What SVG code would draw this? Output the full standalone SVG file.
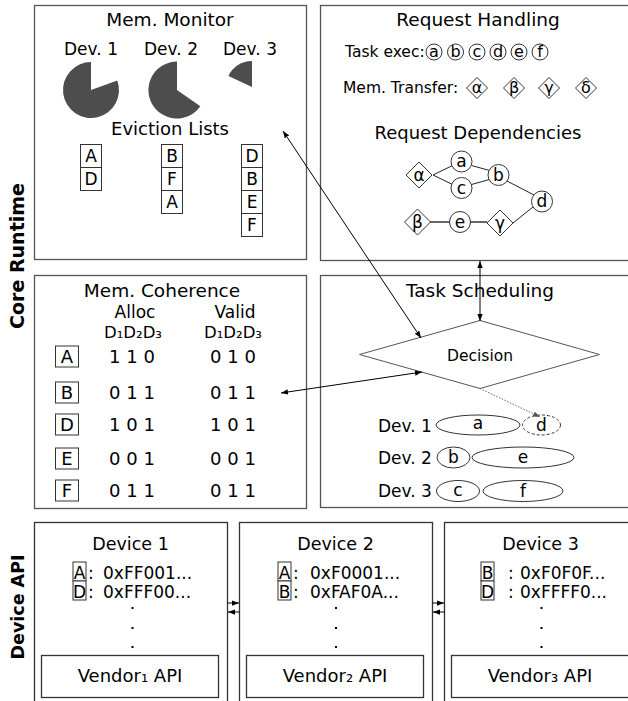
<svg xmlns="http://www.w3.org/2000/svg" width="628" height="701" viewBox="0 0 628 701">
<style>
text{font-family:"DejaVu Sans","Liberation Sans",sans-serif;fill:#000}
.t{font-size:18.5px;text-anchor:middle}
.m{text-anchor:middle}
.box{fill:none;stroke:#555;stroke-width:1.3}
.dbox{fill:none;stroke:#333;stroke-width:1.3}
.sm{fill:#fff;stroke:#333;stroke-width:1}
.pie{fill:#4d4d4d}
.side{font-weight:bold;text-anchor:middle}
.con{stroke:#000;stroke-width:1;fill:none}
.e{stroke:#222;stroke-width:1;fill:none}
.eg{stroke:#666;stroke-width:2;fill:none}
</style>
<defs>
<marker id="ah" viewBox="0 0 8 6" refX="8" refY="3" markerWidth="7" markerHeight="5.5" markerUnits="userSpaceOnUse" orient="auto-start-reverse"><path d="M0,0 L8,3 L0,6 z" fill="#000"/></marker>
<marker id="ahg" viewBox="0 0 8 6" refX="8" refY="3" markerWidth="7" markerHeight="5.5" markerUnits="userSpaceOnUse" orient="auto"><path d="M0,0 L8,3 L0,6 z" fill="#555"/></marker>
</defs>
<rect width="628" height="701" fill="#fff"/>

<text class="side" font-size="19" transform="translate(24,256) rotate(-90)">Core Runtime</text>
<text class="side" font-size="17.5" transform="translate(24,607) rotate(-90)">Device API</text>

<g id="mem-monitor">
<rect class="box" x="34.5" y="5.5" width="272" height="254"/>
<text class="t" x="170" y="26">Mem. Monitor</text>
<text class="m" font-size="17" x="91" y="55">Dev. 1</text>
<text class="m" font-size="17" x="171" y="55">Dev. 2</text>
<text class="m" font-size="17" x="250" y="55">Dev. 3</text>
<path class="pie" d="M91,90 L117.3,80.4 A28,28 0 1,1 91,62 Z"/>
<path class="pie" d="M177,90 L200.3,106.3 A28.5,28.5 0 1,1 177,61.5 Z"/>
<path class="pie" d="M252,87 L228.4,76 A26,26 0 0,1 252,61 Z"/>
<text class="m" font-size="18" x="170" y="135">Eviction Lists</text>
<g font-size="17" text-anchor="middle">
<rect class="sm" x="80.5" y="144.5" width="21" height="23"/><text x="91" y="162">A</text>
<rect class="sm" x="80.5" y="167.5" width="21" height="23"/><text x="91" y="185">D</text>
<rect class="sm" x="161.5" y="144.5" width="21" height="23"/><text x="172" y="162">B</text>
<rect class="sm" x="161.5" y="167.5" width="21" height="23"/><text x="172" y="185">F</text>
<rect class="sm" x="161.5" y="190.5" width="21" height="23"/><text x="172" y="208">A</text>
<rect class="sm" x="241.5" y="144.5" width="21" height="23"/><text x="252" y="162">D</text>
<rect class="sm" x="241.5" y="167.5" width="21" height="23"/><text x="252" y="185">B</text>
<rect class="sm" x="241.5" y="190.5" width="21" height="23"/><text x="252" y="208">E</text>
<rect class="sm" x="241.5" y="213.5" width="21" height="23"/><text x="252" y="231">F</text>
</g>
</g>

<g id="request-handling">
<rect class="box" x="320.5" y="5.5" width="320" height="255"/>
<text class="t" x="478" y="26">Request Handling</text>
<text font-size="15.5" x="345" y="57">Task exec:</text>
<g font-size="16" text-anchor="middle">
<circle class="sm" cx="434" cy="52" r="8"/><text x="434" y="57">a</text>
<circle class="sm" cx="455.5" cy="52" r="8"/><text x="455.5" y="57">b</text>
<circle class="sm" cx="477" cy="52" r="8"/><text x="477" y="57">c</text>
<circle class="sm" cx="498" cy="52" r="8"/><text x="498" y="57">d</text>
<circle class="sm" cx="519" cy="52" r="8"/><text x="519" y="57">e</text>
<circle class="sm" cx="540" cy="52" r="8"/><text x="540" y="57">f</text>
</g>
<text font-size="15.5" x="343" y="93">Mem. Transfer:</text>
<g font-size="16" text-anchor="middle">
<path class="sm" d="M466.5,88 L477,77.5 L487.5,88 L477,98.5 Z"/><text x="477" y="93">α</text>
<path class="sm" d="M503.5,88 L514,77.5 L524.5,88 L514,98.5 Z"/><text x="514" y="93">β</text>
<path class="sm" d="M538.5,88 L549,77.5 L559.5,88 L549,98.5 Z"/><text x="549" y="93">γ</text>
<path class="sm" d="M575.5,88 L586,77.5 L596.5,88 L586,98.5 Z"/><text x="586" y="93">δ</text>
</g>
<text class="m" font-size="18" x="478" y="139">Request Dependencies</text>
<g id="dep-edges">
<line class="e" x1="433" y1="175" x2="452.5" y2="165.5"/>
<line class="e" x1="433" y1="175" x2="452.5" y2="184.5"/>
<line class="e" x1="471.5" y1="165.5" x2="489.5" y2="170.5"/>
<line class="e" x1="471.5" y1="184.5" x2="489.5" y2="179.5"/>
<line class="e" x1="507" y1="181" x2="534" y2="195"/>
<line class="e" x1="513" y1="223" x2="533" y2="207"/>
<line class="eg" x1="430" y1="222" x2="449.5" y2="222"/>
<line class="eg" x1="470.5" y1="222" x2="487" y2="222"/>
</g>
<g font-size="17" text-anchor="middle">
<path class="sm" d="M406,175 L419,162 L432,175 L419,188 Z"/><text x="419" y="181">α</text>
<circle class="sm" cx="461.5" cy="161.5" r="10.5"/><text x="461.5" y="167">a</text>
<circle class="sm" cx="461.5" cy="188" r="10.5"/><text x="461.5" y="193.5">c</text>
<circle class="sm" cx="498.5" cy="175" r="10.5"/><text x="498.5" y="180.5">b</text>
<circle class="sm" cx="542" cy="201.5" r="10.5"/><text x="542" y="207">d</text>
<path class="sm" d="M404.5,222 L417.5,209 L430.5,222 L417.5,235 Z"/><text x="417.5" y="228">β</text>
<circle class="sm" cx="460" cy="222" r="10.5"/><text x="460" y="227.5">e</text>
<path class="sm" d="M487,223 L500,210 L513,223 L500,236 Z"/><text x="500" y="229">γ</text>
</g>
</g>

<g id="mem-coherence">
<rect class="box" x="34.5" y="275.5" width="272" height="233"/>
<text class="t" x="162" y="297">Mem. Coherence</text>
<g text-anchor="middle">
<text font-size="17" x="135" y="318">Alloc</text>
<text font-size="16.5" x="133" y="338">D₁D₂D₃</text>
<text font-size="17" x="235" y="318">Valid</text>
<text font-size="16.5" x="233" y="338">D₁D₂D₃</text>
</g>
<g font-size="18" text-anchor="middle">
<rect class="sm" x="55.5" y="346" width="23" height="21"/><text x="67" y="363">A</text>
<rect class="sm" x="55.5" y="382" width="23" height="21"/><text x="67" y="399">B</text>
<rect class="sm" x="55.5" y="414" width="23" height="21"/><text x="67" y="431">D</text>
<rect class="sm" x="55.5" y="448" width="23" height="21"/><text x="67" y="465">E</text>
<rect class="sm" x="55.5" y="480" width="23" height="21"/><text x="67" y="497">F</text>
<text x="132" y="363">1 1 0</text><text x="233" y="363">0 1 0</text>
<text x="132" y="399">0 1 1</text><text x="233" y="399">0 1 1</text>
<text x="132" y="431">1 0 1</text><text x="233" y="431">1 0 1</text>
<text x="132" y="465">0 0 1</text><text x="233" y="465">0 0 1</text>
<text x="132" y="497">0 1 1</text><text x="233" y="497">0 1 1</text>
</g>
</g>

<g id="task-scheduling">
<rect class="box" x="320.5" y="275.5" width="320" height="232"/>
<text class="t" x="480" y="297">Task Scheduling</text>
<path d="M359.5,354.5 L480,320.5 L599.5,354.5 L480,388.5 Z" fill="none" stroke="#555" stroke-width="1"/>
<text class="m" font-size="15.5" x="480" y="361">Decision</text>
<g font-size="17">
<text x="378" y="432">Dev. 1</text>
<text x="378" y="464">Dev. 2</text>
<text x="378" y="497">Dev. 3</text>
</g>
<g font-size="17" text-anchor="middle">
<ellipse class="sm" cx="478" cy="425" rx="42" ry="10"/><text x="478" y="429">a</text>
<ellipse cx="541.5" cy="425" rx="19" ry="10" fill="#fff" stroke="#333" stroke-width="1" stroke-dasharray="3,2"/><text x="541.5" y="431">d</text>
<ellipse class="sm" cx="453.5" cy="457.5" rx="16.5" ry="10.5"/><text x="453.5" y="463">b</text>
<ellipse class="sm" cx="523" cy="457.5" rx="51" ry="10.5"/><text x="523" y="463">e</text>
<ellipse class="sm" cx="458" cy="491" rx="21.5" ry="10.5"/><text x="458" y="496">c</text>
<ellipse class="sm" cx="523" cy="491" rx="40" ry="10.5"/><text x="523" y="497">f</text>
</g>
</g>

<g id="device-1">
<rect class="dbox" x="34.5" y="522.5" width="193" height="190"/>
<text class="m" font-size="17.5" x="130.5" y="550">Device 1</text>
<g font-size="17">
<rect class="sm" x="73" y="562" width="13" height="19"/><text class="m" x="79.5" y="579">A</text>
<rect class="sm" x="73" y="581" width="13" height="19"/><text class="m" x="79.5" y="598">D</text>
<text x="88" y="579">:</text><text x="103" y="579">0xFF001...</text>
<text x="88" y="598">:</text><text x="103" y="598">0xFFF00...</text>
</g>
<rect x="131.5" y="607" width="2" height="2" fill="#000"/>
<rect x="131.5" y="627" width="2" height="2" fill="#000"/>
<rect x="131.5" y="646" width="2" height="2" fill="#000"/>
<rect class="dbox" x="41.5" y="655.5" width="177" height="42"/>
<text class="m" font-size="18" x="130" y="682">Vendor₁ API</text>
</g>

<g id="device-2">
<rect class="dbox" x="239.5" y="522.5" width="193" height="190"/>
<text class="m" font-size="17.5" x="335.5" y="550">Device 2</text>
<g font-size="17">
<rect class="sm" x="278" y="562" width="13" height="19"/><text class="m" x="284.5" y="579">A</text>
<rect class="sm" x="278" y="581" width="13" height="19"/><text class="m" x="284.5" y="598">B</text>
<text x="293" y="579">:</text><text x="310" y="579">0xF0001...</text>
<text x="293" y="598">:</text><text x="310" y="598">0xFAF0A...</text>
</g>
<rect x="335" y="607" width="2" height="2" fill="#000"/>
<rect x="335" y="627" width="2" height="2" fill="#000"/>
<rect x="335" y="646" width="2" height="2" fill="#000"/>
<rect class="dbox" x="246.5" y="655.5" width="177" height="42"/>
<text class="m" font-size="18" x="335" y="682">Vendor₂ API</text>
</g>

<g id="device-3">
<rect class="dbox" x="444.5" y="522.5" width="193" height="190"/>
<text class="m" font-size="17.5" x="540.5" y="550">Device 3</text>
<g font-size="17">
<rect class="sm" x="481" y="562" width="13" height="19"/><text class="m" x="487.5" y="579">B</text>
<rect class="sm" x="481" y="581" width="13" height="19"/><text class="m" x="487.5" y="598">D</text>
<text x="508" y="579">:</text><text x="520" y="579">0xF0F0F...</text>
<text x="508" y="598">:</text><text x="520" y="598">0xFFFF0...</text>
</g>
<rect x="540.5" y="607" width="2" height="2" fill="#000"/>
<rect x="540.5" y="627" width="2" height="2" fill="#000"/>
<rect x="540.5" y="646" width="2" height="2" fill="#000"/>
<rect class="dbox" x="451.5" y="655.5" width="190" height="42"/>
<text class="m" font-size="18" x="540" y="682">Vendor₃ API</text>
</g>

<g id="connectors">
<line class="con" x1="283" y1="131" x2="421" y2="338" marker-start="url(#ah)" marker-end="url(#ah)"/>
<line class="con" x1="480" y1="261" x2="480" y2="321" marker-start="url(#ah)" marker-end="url(#ah)"/>
<line class="con" x1="281" y1="393" x2="422" y2="372" marker-start="url(#ah)" marker-end="url(#ah)"/>
<line x1="480" y1="388.5" x2="540" y2="417" stroke="#666" stroke-width="1" stroke-dasharray="1.5,1.5" marker-end="url(#ahg)"/>
<line class="con" x1="227.5" y1="603" x2="239" y2="603" marker-end="url(#ah)"/>
<line class="con" x1="239.5" y1="612" x2="228" y2="612" marker-end="url(#ah)"/>
<line class="con" x1="432.5" y1="603" x2="444" y2="603" marker-end="url(#ah)"/>
<line class="con" x1="444.5" y1="612" x2="433" y2="612" marker-end="url(#ah)"/>
</g>
</svg>
